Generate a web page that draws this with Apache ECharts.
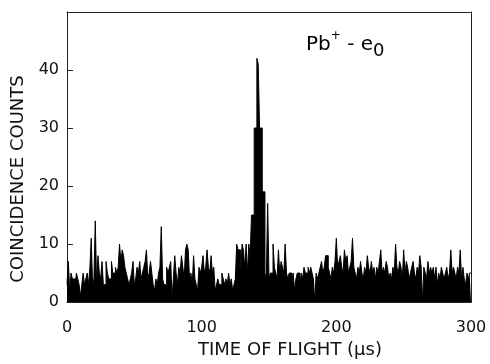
<!DOCTYPE html>
<html>
<head>
<meta charset="utf-8">
<script src="https://cdn.jsdelivr.net/npm/echarts@6/dist/echarts.min.js"></script>
<style>html,body{margin:0;padding:0;background:#fff}#c{width:490px;height:364px}</style>
</head>
<body>
<div id="c"></div>
<script>
// Bin start times (µs), 1 µs wide bins
var binStart = [];
for (var i = 0; i < 300; i++) binStart.push(i);
// Coincidence counts per bin
var counts = [
  3,7,2,5,4,4,3,5,4,3,
  1,3,5,3,4,5,3,6,11,3,
  4,14,3,8,5,4,7,3,3,7,
  5,4,4,7,5,5,6,5,6,10,
  7,9,8,6,5,4,3,4,5,7,
  3,4,6,5,7,4,5,6,7,9,
  4,5,7,5,3,2,4,3,5,6,
  13,4,3,3,6,5,6,7,1,4,
  8,5,3,6,5,8,6,4,9,10,
  9,4,5,3,8,4,3,2,6,5,
  6,8,5,6,9,6,5,8,5,6,
  2,3,4,3,3,5,4,3,4,3,
  5,3,4,2,3,4,10,9,9,5,
  10,9,6,10,5,10,8,15,15,30,
  30,42,41,30,30,19,19,5,4,17,
  4,5,5,10,6,5,4,9,5,7,
  6,5,10,5,4,5,5,4,5,2,
  4,5,5,3,5,4,6,5,5,6,
  5,6,5,4,0,5,4,5,6,7,
  5,6,8,8,6,5,4,6,5,7,
  11,6,7,8,6,5,9,7,8,5,
  6,7,11,6,5,4,6,5,7,5,
  4,6,5,8,6,5,7,5,6,4,
  6,5,7,9,5,6,5,7,6,4,
  5,4,6,5,10,6,5,7,6,4,
  9,5,7,6,4,5,6,7,5,4,
  6,5,8,6,0,6,5,4,7,5,
  6,5,6,4,6,3,5,4,6,5,
  4,5,6,4,5,9,5,6,5,4,
  6,5,9,4,6,4,3,5,4,5
];
var xTicks = [0, 100, 200, 300];
var yTicks = [0, 10, 20, 30, 40];
var xName = 'TIME OF FLIGHT (\u00b5s)';
var yName = 'COINCIDENCE COUNTS';

var data = binStart.map(function (t, i) { return [t, counts[i]]; });
data.push([300, counts[counts.length - 1]]);

var font = 'DejaVu Sans';
var ink = '#222';
var chart = echarts.init(document.getElementById('c'), null, {renderer: 'canvas'});
chart.setOption({
  animation: false,
  backgroundColor: '#fff',
  grid: {left: 67, right: 19, top: 12, bottom: 58},
  xAxis: [{
    type: 'value', min: 0, max: 300, interval: 100,
    name: xName, nameLocation: 'middle', nameGap: 37,
    nameTextStyle: {fontFamily: font, fontSize: 18, color: '#111', padding: [0, 0, 0, 42]},
    axisLine: {show: true, onZero: false, lineStyle: {color: ink, width: 1}},
    axisTick: {show: true, inside: true, length: 6, lineStyle: {color: ink}},
    minorTick: {show: true, splitNumber: 2, length: 4, lineStyle: {color: ink}},
    axisLabel: {fontFamily: font, fontSize: 16, color: '#111', margin: 18, formatter: function (v) { return xTicks.indexOf(v) >= 0 ? String(v) : ''; }},
    splitLine: {show: false}
  }, {
    type: 'value', position: 'top', min: 0, max: 300,
    axisLine: {show: true, onZero: false, lineStyle: {color: ink, width: 1}},
    axisTick: {show: false}, axisLabel: {show: false}, splitLine: {show: false}
  }],
  yAxis: [{
    type: 'value', min: 0, max: 50, interval: 10,
    name: yName, nameLocation: 'middle', nameGap: 40,
    nameTextStyle: {fontFamily: font, fontSize: 18, color: '#111', padding: [0, 44, 0, 0]},
    axisLine: {show: true, onZero: false, lineStyle: {color: ink, width: 1}},
    axisTick: {show: true, inside: true, length: 6, lineStyle: {color: ink}},
    axisLabel: {fontFamily: font, fontSize: 16, color: '#111', margin: 8, formatter: function (v) { return yTicks.indexOf(v) >= 0 ? String(v) : ''; }},
    splitLine: {show: false}
  }, {
    type: 'value', position: 'right', min: 0, max: 50,
    axisLine: {show: true, onZero: false, lineStyle: {color: ink, width: 1}},
    axisTick: {show: false}, axisLabel: {show: false}, splitLine: {show: false}
  }],
  series: [{
    type: 'line', step: 'end', data: data, symbol: 'none',
    xAxisIndex: 0, yAxisIndex: 0, z: 1,
    lineStyle: {color: '#000', width: 1},
    areaStyle: {color: '#000', opacity: 1}
  }],
  graphic: [{
    type: 'text', left: 306, top: 30,
    style: {
      rich: {
        a: {fontFamily: font, fontSize: 20, color: '#000', lineHeight: 30},
        sup: {fontFamily: font, fontSize: 12, color: '#000', verticalAlign: 'top', lineHeight: 30},
        sub: {fontFamily: font, fontSize: 18, color: '#000', verticalAlign: 'bottom', lineHeight: 30}
      },
      text: '{a|Pb}{sup|+}{a| - e}{sub|0}'
    }
  }]
});
</script>
</body>
</html>
